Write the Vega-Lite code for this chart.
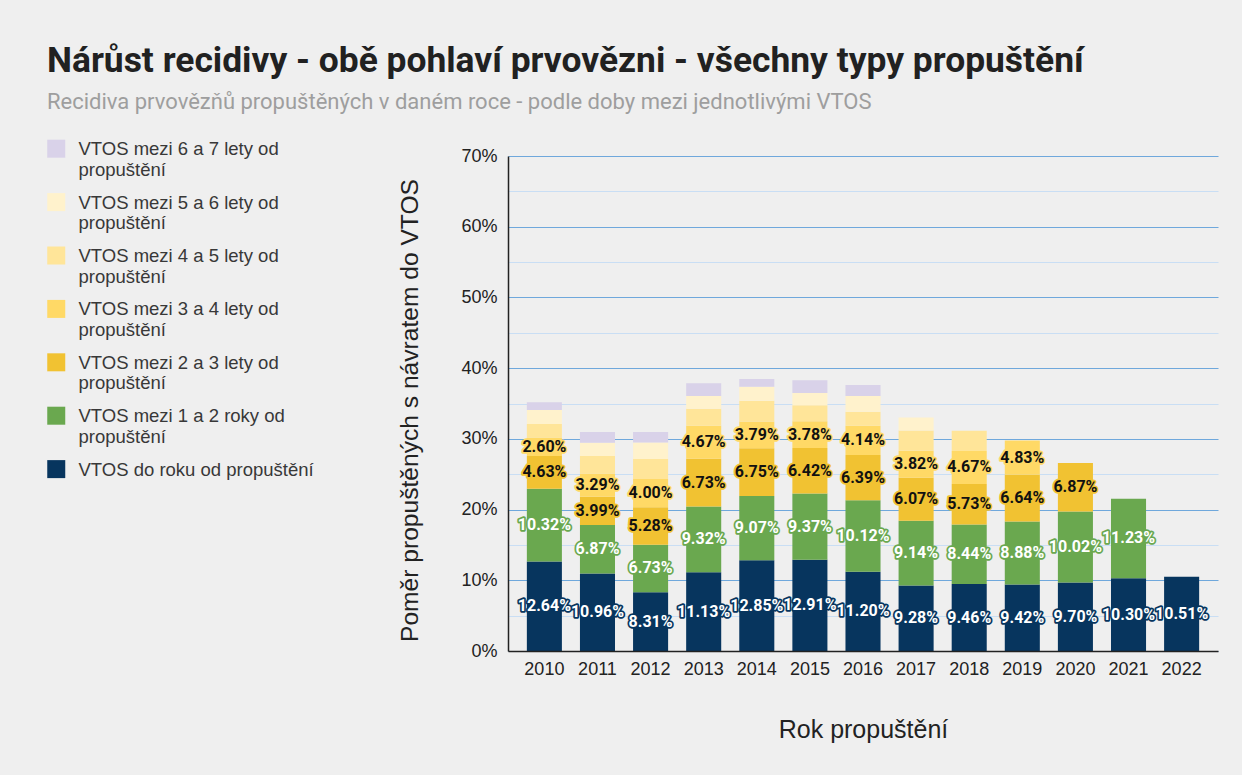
{
  "$schema": "https://vega.github.io/schema/vega-lite/v6.json",
  "width": 710,
  "height": 495,
  "autosize": {"type": "none"},
  "padding": {"left": 508, "top": 156, "right": 24, "bottom": 124},
  "background": "#efefef",
  "title": {
    "text": "Nárůst recidivy - obě pohlaví prvovězni - všechny typy propuštění",
    "subtitle": "Recidiva prvovězňů propuštěných v daném roce - podle doby mezi jednotlivými VTOS",
    "anchor": "start",
    "frame": "group",
    "dx": -461,
    "offset": 18,
    "font": "Roboto",
    "fontSize": 35.4,
    "fontWeight": "bold",
    "color": "#212121",
    "subtitleFont": "Roboto",
    "subtitleFontSize": 22,
    "subtitleColor": "#9e9e9e",
    "subtitlePadding": 13
  },
  "config": {
    "view": {"stroke": null},
    "axis": {"labelFont": "Liberation Sans", "titleFont": "Liberation Sans", "labelColor": "#222", "titleColor": "#222", "titleFontWeight": "normal"},
    "legend": {"labelFont": "Liberation Sans"}
  },
  "datasets": {
    "cats": [
      {"k": 0, "cat": "VTOS do roku od propuštění"},
      {"k": 1, "cat": "VTOS mezi 1 a 2 roky od propuštění"},
      {"k": 2, "cat": "VTOS mezi 2 a 3 lety od propuštění"},
      {"k": 3, "cat": "VTOS mezi 3 a 4 lety od propuštění"},
      {"k": 4, "cat": "VTOS mezi 4 a 5 lety od propuštění"},
      {"k": 5, "cat": "VTOS mezi 5 a 6 lety od propuštění"},
      {"k": 6, "cat": "VTOS mezi 6 a 7 lety od propuštění"}
    ],
    "vals": [
      {"year": "2010", "k": 0, "v": 0.1264}, {"year": "2010", "k": 1, "v": 0.1032}, {"year": "2010", "k": 2, "v": 0.0463}, {"year": "2010", "k": 3, "v": 0.0260}, {"year": "2010", "k": 4, "v": 0.0191}, {"year": "2010", "k": 5, "v": 0.0198}, {"year": "2010", "k": 6, "v": 0.0109},
      {"year": "2011", "k": 0, "v": 0.1096}, {"year": "2011", "k": 1, "v": 0.0687}, {"year": "2011", "k": 2, "v": 0.0399}, {"year": "2011", "k": 3, "v": 0.0329}, {"year": "2011", "k": 4, "v": 0.0246}, {"year": "2011", "k": 5, "v": 0.0188}, {"year": "2011", "k": 6, "v": 0.0151},
      {"year": "2012", "k": 0, "v": 0.0831}, {"year": "2012", "k": 1, "v": 0.0673}, {"year": "2012", "k": 2, "v": 0.0528}, {"year": "2012", "k": 3, "v": 0.0400}, {"year": "2012", "k": 4, "v": 0.0284}, {"year": "2012", "k": 5, "v": 0.0231}, {"year": "2012", "k": 6, "v": 0.0151},
      {"year": "2013", "k": 0, "v": 0.1113}, {"year": "2013", "k": 1, "v": 0.0932}, {"year": "2013", "k": 2, "v": 0.0673}, {"year": "2013", "k": 3, "v": 0.0467}, {"year": "2013", "k": 4, "v": 0.0242}, {"year": "2013", "k": 5, "v": 0.0180}, {"year": "2013", "k": 6, "v": 0.0180},
      {"year": "2014", "k": 0, "v": 0.1285}, {"year": "2014", "k": 1, "v": 0.0907}, {"year": "2014", "k": 2, "v": 0.0675}, {"year": "2014", "k": 3, "v": 0.0379}, {"year": "2014", "k": 4, "v": 0.0294}, {"year": "2014", "k": 5, "v": 0.0198}, {"year": "2014", "k": 6, "v": 0.0109},
      {"year": "2015", "k": 0, "v": 0.1291}, {"year": "2015", "k": 1, "v": 0.0937}, {"year": "2015", "k": 2, "v": 0.0642}, {"year": "2015", "k": 3, "v": 0.0378}, {"year": "2015", "k": 4, "v": 0.0228}, {"year": "2015", "k": 5, "v": 0.0174}, {"year": "2015", "k": 6, "v": 0.0180},
      {"year": "2016", "k": 0, "v": 0.1120}, {"year": "2016", "k": 1, "v": 0.1012}, {"year": "2016", "k": 2, "v": 0.0639}, {"year": "2016", "k": 3, "v": 0.0414}, {"year": "2016", "k": 4, "v": 0.0200}, {"year": "2016", "k": 5, "v": 0.0222}, {"year": "2016", "k": 6, "v": 0.0156},
      {"year": "2017", "k": 0, "v": 0.0928}, {"year": "2017", "k": 1, "v": 0.0914}, {"year": "2017", "k": 2, "v": 0.0607}, {"year": "2017", "k": 3, "v": 0.0382}, {"year": "2017", "k": 4, "v": 0.0286}, {"year": "2017", "k": 5, "v": 0.0184},
      {"year": "2018", "k": 0, "v": 0.0946}, {"year": "2018", "k": 1, "v": 0.0844}, {"year": "2018", "k": 2, "v": 0.0573}, {"year": "2018", "k": 3, "v": 0.0467}, {"year": "2018", "k": 4, "v": 0.0286},
      {"year": "2019", "k": 0, "v": 0.0942}, {"year": "2019", "k": 1, "v": 0.0888}, {"year": "2019", "k": 2, "v": 0.0664}, {"year": "2019", "k": 3, "v": 0.0483},
      {"year": "2020", "k": 0, "v": 0.0970}, {"year": "2020", "k": 1, "v": 0.1002}, {"year": "2020", "k": 2, "v": 0.0687},
      {"year": "2021", "k": 0, "v": 0.1030}, {"year": "2021", "k": 1, "v": 0.1123},
      {"year": "2022", "k": 0, "v": 0.1051}
    ]
  },
  "data": {"name": "vals"},
  "transform": [
    {"lookup": "k", "from": {"data": {"name": "cats"}, "key": "k", "fields": ["cat"]}},
    {"stack": "v", "groupby": ["year"], "sort": [{"field": "k", "order": "ascending"}], "as": ["y0", "y1"]},
    {"calculate": "(datum.y0 + datum.y1) / 2", "as": "ymid"}
  ],
  "encoding": {
    "x": {
      "field": "year",
      "type": "ordinal",
      "scale": {"paddingInner": 0.34, "paddingOuter": 0.355},
      "axis": {
        "title": "Rok propuštění",
        "titleFontSize": 25,
        "titlePadding": 39,
        "labelFontSize": 18,
        "labelAngle": 0,
        "labelPadding": 9,
        "ticks": false,
        "domainColor": "#222",
        "domainWidth": 1.5,
        "zindex": 1
      }
    }
  },
  "layer": [
    {
      "mark": {"type": "bar"},
      "encoding": {
        "y": {
          "field": "y1",
          "type": "quantitative",
          "scale": {"domain": [0, 0.7], "nice": false},
          "axis": {
            "title": "Poměr propuštěných s návratem do VTOS",
            "titleFontSize": 24.6,
            "titlePadding": 38,
            "titleY": 254,
            "labelFontSize": 18,
            "labelPadding": 11,
            "format": ".0%",
            "values": [0, 0.1, 0.2, 0.3, 0.4, 0.5, 0.6, 0.7],
            "ticks": false,
            "grid": true,
            "domainColor": "#222",
            "domainWidth": 1.5,
            "gridColor": "#6fa8dc",
            "gridWidth": 1.2
          }
        },
        "y2": {"field": "y0"},
        "color": {
          "field": "cat",
          "type": "nominal",
          "scale": {
            "domain": ["VTOS do roku od propuštění", "VTOS mezi 1 a 2 roky od propuštění", "VTOS mezi 2 a 3 lety od propuštění", "VTOS mezi 3 a 4 lety od propuštění", "VTOS mezi 4 a 5 lety od propuštění", "VTOS mezi 5 a 6 lety od propuštění", "VTOS mezi 6 a 7 lety od propuštění"],
            "range": ["#07355e", "#6aa84f", "#f1c232", "#ffd966", "#ffe599", "#fff2cc", "#d9d2e9"]
          },
          "legend": {
            "title": null,
            "orient": "none",
            "legendX": -461,
            "legendY": -25,
            "values": ["VTOS mezi 6 a 7 lety od propuštění", "VTOS mezi 5 a 6 lety od propuštění", "VTOS mezi 4 a 5 lety od propuštění", "VTOS mezi 3 a 4 lety od propuštění", "VTOS mezi 2 a 3 lety od propuštění", "VTOS mezi 1 a 2 roky od propuštění", "VTOS do roku od propuštění"],
            "symbolType": "M-1,-0.06L1,-0.06L1,1.94L-1,1.94Z",
            "symbolSize": 324,
            "symbolStrokeWidth": 0,
            "symbolOpacity": 1,
            "labelFontSize": 18.5,
            "labelColor": "#383838",
            "labelLimit": 400,
            "labelOffset": 13,
            "labelBaseline": "top",
            "rowPadding": 4.4,
            "labelExpr": "indexof(datum.label, 'do roku') >= 0 ? datum.label : [replace(datum.label, ' propuštění', ''), 'propuštění']"
          }
        }
      }
    },
    {
      "transform": [{"filter": "datum.k <= 3"}],
      "mark": {"type": "text", "font": "Roboto", "fontSize": 16, "fontWeight": "bold", "strokeWidth": 3.5, "strokeJoin": "round"},
      "encoding": {
        "y": {
          "field": "ymid",
          "type": "quantitative",
          "scale": {"domain": [0, 0.7], "nice": false},
          "axis": {
            "orient": "right",
            "title": null,
            "labels": false,
            "ticks": false,
            "domain": false,
            "grid": true,
            "values": [0.05, 0.15, 0.25, 0.35, 0.45, 0.55, 0.65],
            "gridColor": "#c9def4",
            "gridWidth": 1.2
          }
        },
        "text": {"field": "v", "format": ".2%"},
        "stroke": {
          "field": "cat",
          "type": "nominal",
          "legend": null,
          "scale": {
            "domain": ["VTOS do roku od propuštění", "VTOS mezi 1 a 2 roky od propuštění", "VTOS mezi 2 a 3 lety od propuštění", "VTOS mezi 3 a 4 lety od propuštění"],
            "range": ["#07355e", "#6aa84f", "#f1c232", "#ffd966"]
          }
        },
        "fill": {"condition": {"test": "datum.k <= 1", "value": "#ffffff"}, "value": "#111111"}
      }
    },
    {
      "transform": [{"filter": "datum.k <= 3"}],
      "mark": {"type": "text", "font": "Roboto", "fontSize": 16, "fontWeight": "bold"},
      "encoding": {
        "y": {"field": "ymid", "type": "quantitative", "axis": null},
        "text": {"field": "v", "format": ".2%"},
        "fill": {"condition": {"test": "datum.k <= 1", "value": "#ffffff"}, "value": "#111111"}
      }
    }
  ],
  "resolve": {"axis": {"y": "independent"}}
}
